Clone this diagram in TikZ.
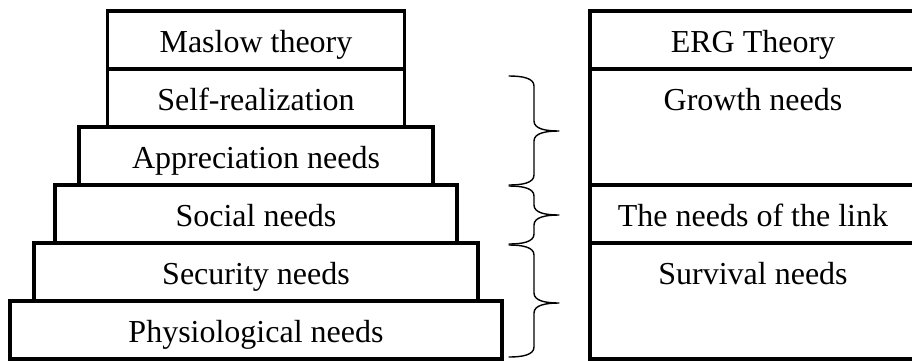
\documentclass[tikz,border=0pt]{standalone}
\usepackage{fontspec}
\setmainfont{Liberation Serif}
\usetikzlibrary{matrix, positioning}

\begin{document}
\begin{tikzpicture}[x=1pt, y=-1pt,
    cell/.style={draw, line width=3.2pt, outer sep=0pt, anchor=center,
      inner ysep=0pt, minimum height=58pt, text height=24pt, text depth=0pt,
      font=\fontsize{32}{38}\selectfont},
    tallcell/.style={cell, minimum height=116pt, text depth=58pt},
    curly/.style={line width=1.4pt, line cap=round, line join=round}]
  \useasboundingbox (0,0) rectangle (912,360);
  \matrix (maslow)
    [matrix of nodes,%
     nodes={cell},
     row sep={58pt,between origins}] at (256,185)
  {
    |[minimum width=297pt]| Maslow theory \\
    |[minimum width=297pt]| Self-realization \\
    |[minimum width=354pt]| Appreciation needs \\
    |[minimum width=402pt]| Social needs \\
    |[minimum width=444pt]| Security needs \\
    |[minimum width=492pt]| Physiological needs \\
  };

  \node[cell, minimum width=326pt] (erg) at (753,40) {ERG Theory};
  \node[tallcell, minimum width=326pt, below=0pt of erg] (growth) {Growth needs};
  \node[cell, minimum width=326pt, below=0pt of growth] (link) {The needs of the link};
  \node[tallcell, minimum width=326pt, below=0pt of link] (survival) {Survival needs};

  \foreach \ya/\ym/\yb in {76/131/185, 186/215/244, 245/303/357}{
    \draw[curly] (509,\ya) .. controls (522,\ya) and (534,\ya+2) .. (534,\ya+10)
      -- (534,\ym-10) .. controls (534,\ym-2) and (546,\ym) .. (559,\ym)
      .. controls (546,\ym) and (534,\ym+2) .. (534,\ym+10)
      -- (534,\yb-10) .. controls (534,\yb-2) and (522,\yb) .. (509,\yb);
  };

\end{tikzpicture}
\end{document}
